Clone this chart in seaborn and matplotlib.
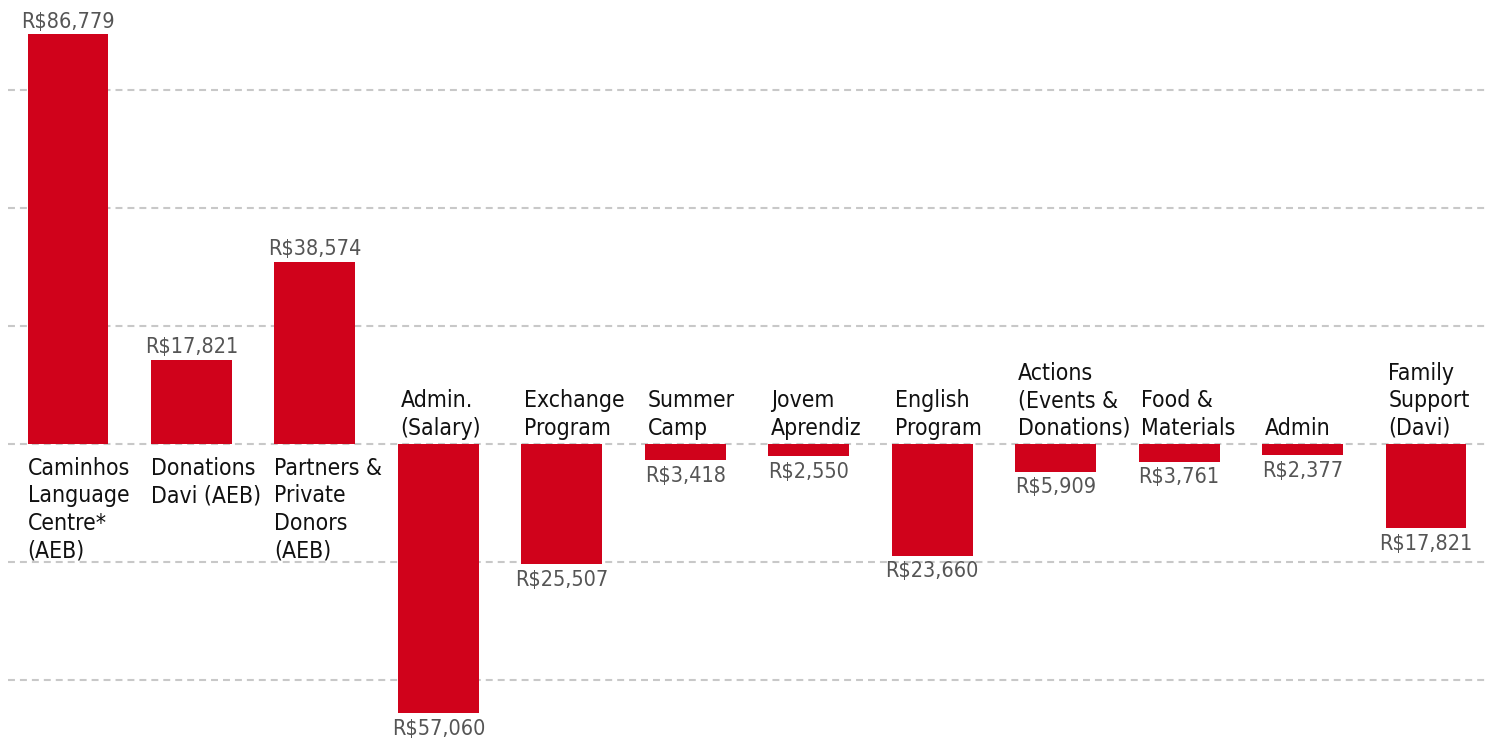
import matplotlib
matplotlib.use("Agg")
import matplotlib.pyplot as plt
import seaborn as sns
import pandas as pd

categories = [
    "Caminhos\nLanguage\nCentre*\n(AEB)",
    "Donations\nDavi (AEB)",
    "Partners &\nPrivate\nDonors\n(AEB)",
    "Admin.\n(Salary)",
    "Exchange\nProgram",
    "Summer\nCamp",
    "Jovem\nAprendiz",
    "English\nProgram",
    "Actions\n(Events &\nDonations)",
    "Food &\nMaterials",
    "Admin",
    "Family\nSupport\n(Davi)",
]
values = [86779, 17821, 38574, -57060, -25507, -3418, -2550, -23660, -5909, -3761, -2377, -17821]
grid_ticks = [-50000, -25000, 0, 25000, 50000, 75000]

RED = "#D0021B"
BAR_W = 0.655

sns.set_style("white")
plt.rcParams["font.family"] = ["DejaVu Sans"]
plt.rcParams["font.stretch"] = "condensed"
plt.rcParams["lines.scale_dashes"] = False

df = pd.DataFrame({"cat": categories, "val": values})

fig = plt.figure(figsize=(14.87, 7.45), dpi=100)
# grid starts a few pixels in from the left edge
ax = fig.add_axes([8 / 1487, 0, 1 - 8 / 1487, 1])

sns.barplot(data=df, x="cat", y="val", color=RED, saturation=1, width=BAR_W,
            linewidth=0, ax=ax)

ax.set_xlim(-0.486, 11.494)
ax.set_ylim(-63771, 94068)
ax.set_yticks(grid_ticks)
ax.grid(axis="y", color="#c8c8c8", linewidth=1.5, dashes=(5, 3.6))
ax.set_axisbelow(True)
ax.tick_params(left=False, bottom=False, labelleft=False, labelbottom=False)
for s in ax.spines.values():
    s.set_visible(False)
ax.set_xlabel("")
ax.set_ylabel("")

for i, (lab, v) in enumerate(zip(categories, values)):
    left = i - BAR_W / 2
    if v >= 0:
        ax.annotate(lab, (left, 0), xytext=(0, -9), textcoords="offset points",
                    ha="left", va="top", fontsize=16.5, color="#111111", linespacing=1.25)
        ax.annotate(f"R${abs(v):,}", (i, v), xytext=(0, 2), textcoords="offset points",
                    ha="center", va="bottom", fontsize=15.5, color="#555555")
    else:
        ax.annotate(lab, (left, 0), xytext=(2, 3), textcoords="offset points",
                    ha="left", va="bottom", fontsize=16.5, color="#111111", linespacing=1.25)
        ax.annotate(f"R${abs(v):,}", (i, v), xytext=(0, -4), textcoords="offset points",
                    ha="center", va="top", fontsize=15.5, color="#555555")

fig.savefig("out.png", dpi=100)
